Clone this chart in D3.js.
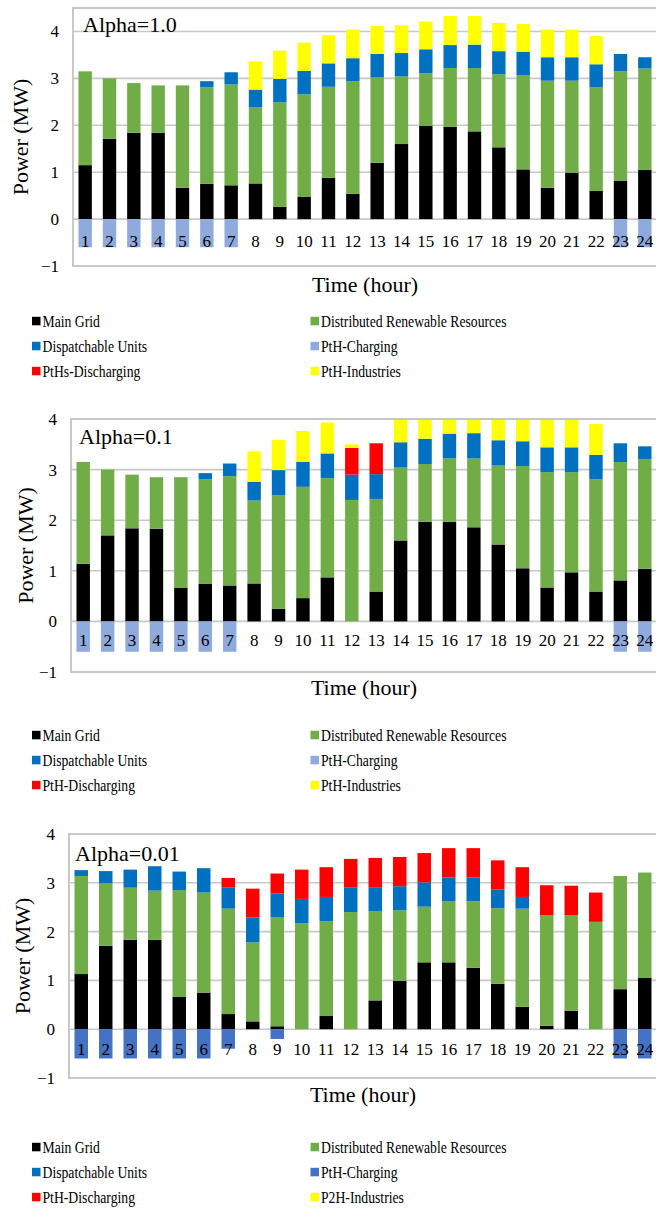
<!DOCTYPE html>
<html>
<head>
<meta charset="utf-8">
<script src="https://cdn.jsdelivr.net/npm/d3@7"></script>
<style>
  html, body { margin: 0; padding: 0; background: #fff; }
  svg { display: block; }
  text { font-family: "Liberation Serif", "Times New Roman", serif; fill: #000; }
</style>
</head>
<body>
<svg id="chart" width="656" height="1211"></svg>
<script>
// Hours of the day and y-axis ticks shared by the three panels
const hours = d3.range(1, 25);
const yTicks = [-1, 0, 1, 2, 3, 4];

// Alpha = 1.0  (MW)
const mainGrid1     = [1.15,1.71,1.84,1.84,0.67,0.75,0.72,0.76,0.26,0.48,0.88,0.54,1.20,1.60,1.99,1.97,1.87,1.53,1.06,0.67,0.99,0.60,0.82,1.05];
const renewables1   = [2.00,1.29,1.06,1.01,2.18,2.06,2.15,1.63,2.23,2.18,1.94,2.40,1.82,1.44,1.12,1.25,1.35,1.56,2.01,2.28,1.96,2.21,2.33,2.16];
const dispatchable1 = [0,0,0,0,0,0.13,0.26,0.37,0.50,0.50,0.50,0.49,0.50,0.50,0.51,0.49,0.50,0.49,0.50,0.50,0.50,0.49,0.37,0.24];
const discharging1  = [0,0,0,0,0,0,0,0,0,0,0,0,0,0,0,0,0,0,0,0,0,0,0,0];
const industries1   = [0,0,0,0,0,0,0,0.60,0.60,0.60,0.60,0.61,0.60,0.59,0.59,0.62,0.61,0.60,0.59,0.59,0.59,0.60,0,0];
const charging1     = [-0.6,-0.6,-0.6,-0.6,-0.6,-0.6,-0.6,0,0,0,0,0,0,0,0,0,0,0,0,0,0,0,-0.6,-0.6];

// Alpha = 0.1  (MW)
const mainGrid2     = [1.14,1.70,1.84,1.83,0.66,0.74,0.71,0.75,0.25,0.46,0.87,0,0.59,1.60,1.97,1.97,1.86,1.52,1.05,0.67,0.97,0.59,0.81,1.04];
const renewables2   = [2.01,1.30,1.06,1.02,2.19,2.07,2.16,1.64,2.24,2.20,1.96,2.40,1.83,1.44,1.14,1.25,1.36,1.56,2.02,2.28,1.98,2.22,2.34,2.17];
const dispatchable2 = [0,0,0,0,0,0.12,0.25,0.37,0.50,0.49,0.49,0.50,0.49,0.50,0.50,0.49,0.50,0.50,0.49,0.49,0.49,0.48,0.37,0.25];
const discharging2  = [0,0,0,0,0,0,0,0,0,0,0,0.53,0.61,0,0,0,0,0,0,0,0,0,0,0];
const industries2   = [0,0,0,0,0,0,0,0.60,0.60,0.61,0.61,0.07,0,0.59,0.59,0.62,0.61,0.60,0.59,0.59,0.59,0.61,0,0];
const charging2     = [-0.6,-0.6,-0.6,-0.6,-0.6,-0.6,-0.6,0,0,0,0,0,0,0,0,0,0,0,0,0,0,0,-0.6,-0.6];

// Alpha = 0.01  (MW)
const mainGrid3     = [1.13,1.71,1.83,1.83,0.66,0.75,0.31,0.16,0.06,0,0.27,0,0.59,0.99,1.37,1.37,1.26,0.93,0.46,0.07,0.38,0,0.82,1.05];
const renewables3   = [2.01,1.28,1.07,1.01,2.19,2.05,2.16,1.62,2.23,2.17,1.94,2.40,1.83,1.45,1.14,1.25,1.36,1.55,2.01,2.27,1.96,2.20,2.32,2.16];
const dispatchable3 = [0.12,0.25,0.37,0.50,0.38,0.50,0.43,0.51,0.49,0.50,0.50,0.50,0.49,0.49,0.50,0.49,0.49,0.38,0.24,0,0,0,0,0];
const discharging3  = [0,0,0,0,0,0,0.20,0.59,0.41,0.60,0.61,0.59,0.60,0.60,0.60,0.60,0.60,0.60,0.61,0.61,0.60,0.60,0,0];
const industries3   = [0,0,0,0,0,0,0,0,0,0,0,0,0,0,0,0,0,0,0,0,0,0,0,0];
const charging3     = [-0.6,-0.6,-0.6,-0.6,-0.6,-0.6,-0.4,0,-0.2,0,0,0,0,0,0,0,0,0,0,0,0,0,-0.6,-0.6];

// Legend labels for each panel
const legend1 = ["Main Grid","Distributed Renewable Resources","Dispatchable Units","PtH-Charging","PtHs-Discharging","PtH-Industries"];
const legend2 = ["Main Grid","Distributed Renewable Resources","Dispatchable Units","PtH-Charging","PtH-Discharging","PtH-Industries"];
const legend3 = ["Main Grid","Distributed Renewable Resources","Dispatchable Units","PtH-Charging","PtH-Discharging","P2H-Industries"];

const keys = ["main","drr","disp","chg","dis","ind"];   // legend order
const stackKeys = ["main","drr","disp","dis","ind","chg"];

const colorsLight = {main:"#000000", drr:"#70AD47", disp:"#0070C0", chg:"#8FAADC", dis:"#FF0000", ind:"#FFFF00"};
const colorsDark  = Object.assign({}, colorsLight, {chg:"#4472C4"});

const svg = d3.select("#chart");

function rows(m, r, d, dis, ind, c) {
  return hours.map((h, i) => ({hour: h, main: m[i], drr: r[i], disp: d[i], dis: dis[i], ind: ind[i], chg: c[i]}));
}

const panels = [
  {id: 1, title: "Alpha=1.0", data: rows(mainGrid1, renewables1, dispatchable1, discharging1, industries1, charging1),
   colors: colorsLight, legend: legend1,
   left: 73, right: 657, top: 8, bottom: 266, domain: [-1, 4.5],
   titleX: 83, titleY: 31.5, yLabelX: 20, xTitleY: 292, hourDy: 28, legendY: 321},
  {id: 2, title: "Alpha=0.1", data: rows(mainGrid2, renewables2, dispatchable2, discharging2, industries2, charging2),
   colors: colorsLight, legend: legend2,
   left: 71, right: 657, top: 419, bottom: 672, domain: [-1, 4],
   titleX: 79, titleY: 444, yLabelX: 25, xTitleY: 695, hourDy: 25, legendY: 735},
  {id: 3, title: "Alpha=0.01", data: rows(mainGrid3, renewables3, dispatchable3, discharging3, industries3, charging3),
   colors: colorsDark, legend: legend3,
   left: 69, right: 657, top: 834, bottom: 1078, domain: [-1, 4],
   titleX: 75, titleY: 861, yLabelX: 22, xTitleY: 1102, hourDy: 26, legendY: 1147}
];

const gridColor = "#C8C8C8";

panels.forEach(p => {
  const g = svg.append("g");

  const x = d3.scaleBand()
    .domain(hours)
    .range([p.left, p.right])
    .paddingInner(0.45)
    .paddingOuter(0.225);

  const y = d3.scaleLinear().domain(p.domain).range([p.bottom, p.top]);

  // clip to plot area
  const clipId = "clip" + p.id;
  g.append("clipPath").attr("id", clipId)
    .append("rect")
    .attr("x", p.left).attr("y", p.top)
    .attr("width", p.right - p.left).attr("height", p.bottom - p.top);

  // gridlines
  g.append("g").selectAll("line")
    .data(yTicks.filter(t => t > p.domain[0] && t <= p.domain[1]))
    .join("line")
    .attr("x1", p.left).attr("x2", p.right)
    .attr("y1", d => y(d)).attr("y2", d => y(d))
    .attr("stroke", gridColor).attr("stroke-width", 1.6);

  // stacked bars
  const series = d3.stack()
    .keys(stackKeys)
    .offset(d3.stackOffsetDiverging)(p.data);

  g.append("g").attr("clip-path", `url(#${clipId})`)
    .selectAll("g")
    .data(series)
    .join("g")
    .attr("fill", s => p.colors[s.key])
    .selectAll("rect")
    .data(s => s.filter(d => d[1] !== d[0]))
    .join("rect")
    .attr("x", d => x(d.data.hour))
    .attr("width", x.bandwidth())
    .attr("y", d => y(Math.max(d[0], d[1])))
    .attr("height", d => Math.abs(y(d[0]) - y(d[1])));

  // hour labels
  g.append("g").selectAll("text")
    .data(hours)
    .join("text")
    .attr("x", d => x(d) + x.bandwidth() / 2)
    .attr("y", y(0) + p.hourDy)
    .attr("text-anchor", "middle")
    .attr("font-size", 17)
    .text(d => d);

  // y axis (labels only)
  const yAxis = d3.axisLeft(y).tickValues(yTicks).tickSize(0).tickPadding(14).tickFormat(d3.format("d"));
  const ax = g.append("g").attr("transform", `translate(${p.left},0)`).call(yAxis);
  ax.select(".domain").remove();
  ax.selectAll("text").attr("font-size", 17).attr("font-family", "Liberation Serif").attr("fill", "#000");

  // frame
  g.append("rect")
    .attr("x", p.left).attr("y", p.top)
    .attr("width", p.right - p.left).attr("height", p.bottom - p.top)
    .attr("fill", "none").attr("stroke", gridColor).attr("stroke-width", 2);

  // panel title
  g.append("text")
    .attr("x", p.titleX).attr("y", p.titleY)
    .attr("font-size", 22)
    .text(p.title);

  // axis titles
  g.append("text")
    .attr("transform", `translate(${p.yLabelX},${(p.top + p.bottom) / 2}) rotate(-90)`)
    .attr("text-anchor", "middle")
    .attr("dy", "0.35em")
    .attr("font-size", 22)
    .text("Power (MW)");

  g.append("text")
    .attr("x", (p.left + p.right) / 2)
    .attr("y", p.xTitleY)
    .attr("text-anchor", "middle")
    .attr("font-size", 22)
    .text("Time (hour)");

  // legend: two columns, three rows
  const lg = g.append("g");
  keys.forEach((k, i) => {
    const col = i % 2, row = Math.floor(i / 2);
    const lx = col === 0 ? 32 : 310.5;
    const ly = p.legendY + row * 25;
    lg.append("rect")
      .attr("x", lx).attr("y", ly - 4.2)
      .attr("width", 8.5).attr("height", 8.5)
      .attr("fill", p.colors[k]);
    lg.append("text")
      .attr("transform", `translate(${lx + 10.5},${ly + 5.5}) scale(0.83,1)`)
      .attr("font-size", 16.5)
      .text(p.legend[i]);
  });
});
</script>
</body>
</html>
